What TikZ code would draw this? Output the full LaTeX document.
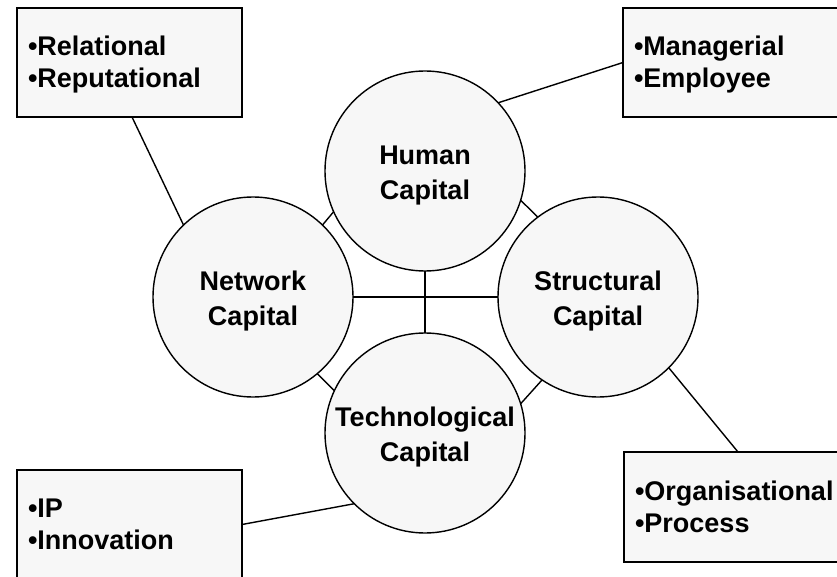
\documentclass[tikz,border=0pt]{standalone}
\usepackage{fontspec}
\setmainfont{Liberation Sans}
\definecolor{paleface}{RGB}{247,247,247}
% struts that fix the first baseline inside boxes and circles
\newcommand\boxstrut{\rule[-6pt]{0pt}{30pt}}
\newcommand\capstrut{\rule[-6pt]{0pt}{34pt}}
\begin{document}
\begin{tikzpicture}[x=1pt,y=-1pt,
  capital/.style={circle, draw=black, fill=paleface, line width=1.4pt,
    minimum size=200pt, inner sep=0pt, outer sep=0pt, align=center,
    font=\fontsize{27}{35}\selectfont\bfseries},
  facets/.style={rectangle, draw=black, fill=paleface, line width=1.5pt,
    anchor=north west, inner xsep=11pt, inner ysep=0pt, outer sep=0pt,
    minimum height=109pt, align=left,
    font=\fontsize{27}{32}\selectfont\bfseries},
  link/.style={draw=black, line width=1.4pt}]
  \path[fill=white] (0,0) rectangle (837,577);
  \useasboundingbox (0,0) rectangle (837,577);

  % attribute boxes
  \node[facets, text width=203pt] (rel) at (17,8)
    {\boxstrut•Relational\\\boxstrut•Reputational};
  \node[facets, text width=208pt] (man) at (623,8)
    {\boxstrut•Managerial\\\boxstrut•Employee};
  \node[facets, text width=203pt] (inn) at (17,470)
    {\boxstrut•IP\\\boxstrut•Innovation};
  \node[facets, text width=208pt, minimum height=110pt] (org) at (624,452)
    {\boxstrut•Organisational\\\boxstrut•Process};

  % the four capitals
  \node[capital, font=\fontsize{27}{32}\selectfont\bfseries] (hum) at (425,171)
    {\capstrut Human\\\capstrut Capital};
  \node[capital] (net) at (253,297) {\capstrut Network\\\capstrut Capital};
  \node[capital] (str) at (598,297) {\capstrut Structural\\\capstrut Capital};
  \node[capital] (tec) at (425,433) {\capstrut Technological\\\capstrut Capital};

  % links between the capitals
  \path[link] (net.46.6) -- (hum.204.8);
  \path[link] (hum.-17.9) -- (str.127.3);
  \path[link] (net.-50.9) -- (tec.155.3);
  \path[link] (str.236.5) -- (tec.17.7);
  \path[link] (hum.south) -- (tec.north);
  \path[link] (net.east) -- (str.west);

  % links from the capitals to their attributes
  \path[link] ([xshift=115pt]rel.south west) -- (net.134.2);
  \path[link] (man.west) -- (hum.43.9);
  \path[link] ([xshift=114pt]org.north west) -- (str.-45.5);
  \path[link] (inn.east) -- (tec.225);
\end{tikzpicture}
\end{document}
